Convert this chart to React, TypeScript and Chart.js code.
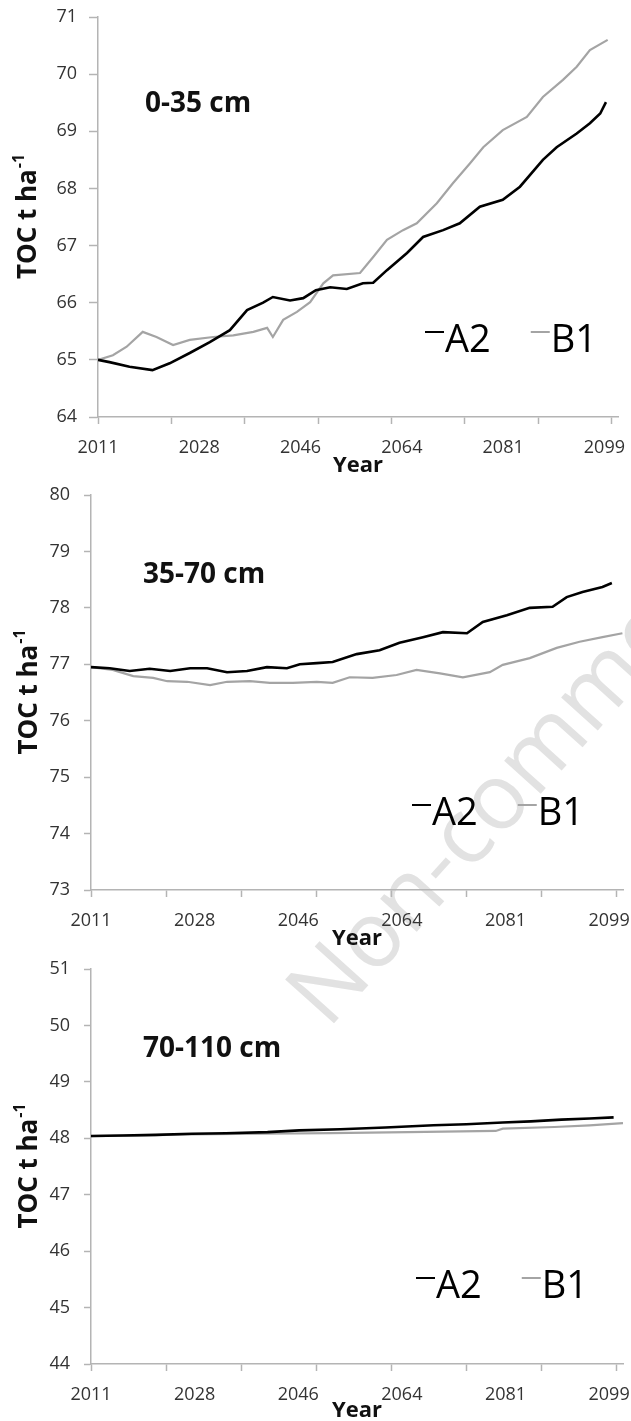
import React, { useEffect, useRef } from 'react';
import { Chart, registerables } from 'chart.js';

Chart.register(...registerables);

const FONT = '"Open Sans", "DejaVu Sans", sans-serif';
const AXIS_COLOR = '#b4b4b4';
const TICK_TEXT = '#333333';

const SERIES_NAMES = ['A2', 'B1'];
const SERIES_COLORS = ['#000000', '#a4a4a4'];

const X_TICK_LABELS = ['2011', '2028', '2046', '2064', '2081', '2099'];
const X_TICK_LABEL_POS = [2011, 2028.67, 2046.33, 2064, 2081.67, 2099.33];
const X_TICK_MARK_POS = [2011, 2023.8, 2036.6, 2049.4, 2062.2, 2075, 2087.8, 2100.6];
const X_MIN = 2011;
const X_MAX = 2101.7;
const X_TITLE = 'Year';
const Y_TITLE = 'TOC t ha';
const Y_TITLE_SUP = '-1';

const DEPTH_TITLES = ['0-35 cm', '35-70 cm', '70-110 cm'];
const Y_MINS = [64, 73, 44];
const Y_MAXS = [71, 80, 51];

// Panel 1: 0-35 cm
const P1_A2_YEARS = [2011, 2013, 2016.5, 2020.5, 2023.5, 2027, 2030.5, 2034, 2037, 2039.8, 2041.5, 2044.5, 2046.8, 2049, 2051.5, 2054.4, 2057.2, 2059, 2061.4, 2064.9, 2067.7, 2071.2, 2074.1, 2077.6, 2081.6, 2084.6, 2088.6, 2091, 2094.5, 2096.8, 2098.6, 2099.6];
const P1_A2_VALUES = [65.0, 64.96, 64.88, 64.82, 64.94, 65.12, 65.31, 65.52, 65.87, 66.0, 66.1, 66.04, 66.08, 66.22, 66.27, 66.24, 66.34, 66.35, 66.57, 66.87, 67.15, 67.27, 67.39, 67.68, 67.8, 68.03, 68.5, 68.72, 68.96, 69.14, 69.31, 69.51];
const P1_B1_YEARS = [2011, 2013.6, 2016, 2018.8, 2021.2, 2024.1, 2027, 2031.1, 2034.6, 2038.1, 2040.5, 2041.5, 2043.3, 2045.7, 2048, 2050.3, 2052, 2056.7, 2059, 2061.4, 2064.2, 2066.6, 2070.1, 2072.9, 2075.9, 2078.2, 2081.6, 2085.8, 2088.6, 2092.1, 2094.5, 2096.8, 2099.9];
const P1_B1_VALUES = [65.0, 65.08, 65.23, 65.49, 65.4, 65.26, 65.35, 65.4, 65.43, 65.49, 65.56, 65.4, 65.7, 65.84, 66.01, 66.34, 66.48, 66.52, 66.8, 67.1, 67.27, 67.39, 67.74, 68.09, 68.44, 68.72, 69.02, 69.25, 69.6, 69.9, 70.13, 70.42, 70.6];

// Panel 2: 35-70 cm
const P2_A2_YEARS = [2011, 2014.2, 2017.6, 2021, 2024.5, 2027.9, 2030.8, 2034.2, 2037.6, 2041, 2044.4, 2046.6, 2049.5, 2052.2, 2056.3, 2060.2, 2063.6, 2067.6, 2071, 2075.1, 2077.8, 2081.9, 2085.8, 2089.7, 2092.1, 2094.8, 2098.2, 2099.8];
const P2_A2_VALUES = [76.95, 76.93, 76.88, 76.92, 76.88, 76.93, 76.93, 76.86, 76.88, 76.95, 76.93, 77.0, 77.02, 77.04, 77.18, 77.25, 77.38, 77.48, 77.57, 77.55, 77.75, 77.87, 78.0, 78.02, 78.19, 78.28, 78.37, 78.44];
const P2_B1_YEARS = [2011, 2014.7, 2018.2, 2021.6, 2024, 2027.4, 2031.3, 2034.2, 2038.1, 2041.5, 2045.4, 2049.5, 2052.2, 2055.1, 2059, 2063.1, 2066.5, 2070.5, 2074.4, 2079, 2081.2, 2085.8, 2090.4, 2094.3, 2098.2, 2101.6];
const P2_B1_VALUES = [76.95, 76.9, 76.79, 76.76, 76.7, 76.69, 76.63, 76.69, 76.7, 76.67, 76.67, 76.69, 76.67, 76.77, 76.76, 76.81, 76.9, 76.84, 76.77, 76.86, 76.99, 77.11, 77.29, 77.4, 77.48, 77.55];

// Panel 3: 70-110 cm
const P3_A2_YEARS = [2011, 2016.4, 2022, 2028.2, 2034, 2041.1, 2046.5, 2053.5, 2061.2, 2069.4, 2075, 2081.2, 2086, 2091.2, 2096, 2100.1];
const P3_A2_VALUES = [48.04, 48.05, 48.06, 48.08, 48.09, 48.11, 48.14, 48.16, 48.19, 48.23, 48.25, 48.28, 48.3, 48.33, 48.35, 48.37];
const P3_B1_YEARS = [2011, 2020, 2028, 2040, 2051.8, 2065, 2080, 2081.2, 2090, 2096, 2101.7];
const P3_B1_VALUES = [48.04, 48.05, 48.07, 48.08, 48.09, 48.11, 48.13, 48.17, 48.2, 48.23, 48.27];

const PANEL_SERIES = [
  [[P1_A2_YEARS, P1_A2_VALUES], [P1_B1_YEARS, P1_B1_VALUES]],
  [[P2_A2_YEARS, P2_A2_VALUES], [P2_B1_YEARS, P2_B1_VALUES]],
  [[P3_A2_YEARS, P3_A2_VALUES], [P3_B1_YEARS, P3_B1_VALUES]],
];

// Layout (pixels) per panel
const LAYOUT = [
  { top: 0, height: 475, areaTop: 17, areaLeft: 98, areaRight: 618, xAxisH: 58, yTick: 9, yPad: 12, titleX: 145, titleBase: 112, yTitleX: 26, legendX: 425, legendBase: 352, xTitlePad: -2 },
  { top: 475, height: 475, areaTop: 20, areaLeft: 91, areaRight: 623, xAxisH: 60, yTick: 7, yPad: 14, titleX: 143, titleBase: 108, yTitleX: 27, legendX: 412, legendBase: 350, xTitlePad: 0 },
  { top: 950, height: 471, areaTop: 19, areaLeft: 91, areaRight: 623, xAxisH: 57, yTick: 7, yPad: 14, titleX: 143, titleBase: 107, yTitleX: 27, legendX: 416, legendBase: 348, xTitlePad: -1 },
];

function Panel({ idx }: { idx: number }) {
  const ref = useRef<HTMLCanvasElement | null>(null);
  const L = LAYOUT[idx];

  useEffect(() => {
    if (!ref.current) return;
    const decor = {
      id: 'decor' + idx,
      afterDraw(chart: any) {
        const { ctx, chartArea } = chart;
        ctx.save();
        // depth title
        ctx.font = `bold 28px ${FONT}`;
        ctx.fillStyle = '#111111';
        ctx.textAlign = 'left';
        ctx.textBaseline = 'alphabetic';
        ctx.fillText(DEPTH_TITLES[idx], L.titleX, L.titleBase);
        // y title with superscript
        ctx.save();
        ctx.translate(L.yTitleX, (chartArea.top + chartArea.bottom) / 2);
        ctx.rotate(-Math.PI / 2);
        ctx.font = `bold 26px ${FONT}`;
        const w1 = ctx.measureText(Y_TITLE).width;
        ctx.font = `bold 16px ${FONT}`;
        const w2 = ctx.measureText(Y_TITLE_SUP).width;
        const start = -(w1 + w2) / 2;
        ctx.textBaseline = 'alphabetic';
        ctx.font = `bold 26px ${FONT}`;
        ctx.fillText(Y_TITLE, start, 10);
        ctx.font = `bold 16px ${FONT}`;
        ctx.fillText(Y_TITLE_SUP, start + w1 + 1, -2);
        ctx.restore();
        // legend
        let x = L.legendX;
        ctx.font = `38px ${FONT}`;
        chart.data.datasets.forEach((ds: any) => {
          ctx.strokeStyle = ds.borderColor;
          ctx.lineWidth = 2;
          ctx.beginPath();
          ctx.moveTo(x, L.legendBase - 20);
          ctx.lineTo(x + 19, L.legendBase - 20);
          ctx.stroke();
          x += 20;
          ctx.fillStyle = '#000000';
          ctx.fillText(ds.label, x, L.legendBase);
          x += ctx.measureText(ds.label).width + 40;
        });
        ctx.restore();
      },
    };

    const datasets = SERIES_NAMES.map((name, si) => {
      const [yrs, vals] = PANEL_SERIES[idx][si];
      return {
        label: name,
        data: (yrs as number[]).map((y, i) => ({ x: y, y: (vals as number[])[i] })),
        borderColor: SERIES_COLORS[si],
        backgroundColor: SERIES_COLORS[si],
        borderWidth: si === 0 ? 2.6 : 2.2,
        pointRadius: 0,
        tension: 0,
        fill: false,
      };
    });

    const chart = new Chart(ref.current, {
      type: 'line',
      data: { datasets },
      options: {
        animation: false,
        responsive: false,
        devicePixelRatio: 1,
        layout: { padding: { top: L.areaTop, right: 631 - L.areaRight, left: 0, bottom: 0 } },
        plugins: { legend: { display: false }, tooltip: { enabled: false }, title: { display: false } },
        scales: {
          x: {
            type: 'linear',
            min: X_MIN,
            max: X_MAX,
            afterBuildTicks: (s: any) => {
              const vals = Array.from(new Set([...X_TICK_MARK_POS, ...X_TICK_LABEL_POS])).sort((a, b) => a - b);
              s.ticks = vals.map((v) => ({ value: v }));
            },
            afterFit: (s: any) => {
              s.height = L.xAxisH;
              s.paddingLeft = 0;
              s.paddingRight = 0;
            },
            ticks: {
              autoSkip: false,
              maxRotation: 0,
              minRotation: 0,
              padding: 13,
              color: TICK_TEXT,
              font: { family: FONT, size: 18 },
              callback: (v: any) => {
                const i = X_TICK_LABEL_POS.indexOf(Number(v));
                return i >= 0 ? X_TICK_LABELS[i] : '';
              },
            },
            grid: {
              display: true,
              drawOnChartArea: false,
              drawTicks: true,
              tickLength: 7,
              tickWidth: 1.5,
              tickColor: (c: any) => (c.tick && X_TICK_MARK_POS.includes(c.tick.value) ? AXIS_COLOR : 'rgba(0,0,0,0)'),
            },
            border: { display: true, color: AXIS_COLOR, width: 1.5 },
            title: {
              display: true,
              text: X_TITLE,
              color: '#111111',
              font: { family: FONT, size: 22, weight: 'bold', lineHeight: 1 },
              padding: { top: 0, bottom: L.xTitlePad },
            },
          },
          y: {
            type: 'linear',
            min: Y_MINS[idx],
            max: Y_MAXS[idx],
            afterFit: (s: any) => {
              s.width = L.areaLeft;
              s.paddingTop = 0;
              s.paddingBottom = 0;
            },
            ticks: {
              stepSize: 1,
              padding: L.yPad,
              color: TICK_TEXT,
              font: { family: FONT, size: 18 },
            },
            grid: {
              display: true,
              drawOnChartArea: false,
              drawTicks: true,
              tickLength: L.yTick,
              tickWidth: 1.5,
              tickColor: AXIS_COLOR,
            },
            border: { display: true, color: AXIS_COLOR, width: 1.5 },
          },
        },
      },
      plugins: [decor],
    } as any);
    return () => chart.destroy();
  }, []);

  return (
    <canvas
      ref={ref}
      width={631}
      height={L.height}
      style={{ position: 'absolute', left: 0, top: L.top, width: 631, height: L.height }}
    />
  );
}

const WATERMARK = 'Non-commercial use only';

function Watermark() {
  const ref = useRef<HTMLCanvasElement | null>(null);
  useEffect(() => {
    const c = ref.current;
    if (!c) return;
    const ctx = c.getContext('2d');
    if (!ctx) return;
    ctx.clearRect(0, 0, 631, 1421);
    ctx.save();
    ctx.translate(328, 1030);
    ctx.rotate((-48 * Math.PI) / 180);
    ctx.font = `92px ${FONT}`;
    ctx.fillStyle = '#e2e2e2';
    ctx.textBaseline = 'alphabetic';
    ctx.fillText(WATERMARK, 0, 0);
    ctx.restore();
  }, []);
  return (
    <canvas
      ref={ref}
      width={631}
      height={1421}
      style={{ position: 'absolute', left: 0, top: 0, width: 631, height: 1421 }}
    />
  );
}

export default function App() {
  return (
    <div style={{ position: 'absolute', left: 0, top: 0, width: 631, height: 1421, background: '#ffffff', overflow: 'hidden' }}>
      <Watermark />
      <Panel idx={0} />
      <Panel idx={1} />
      <Panel idx={2} />
    </div>
  );
}
